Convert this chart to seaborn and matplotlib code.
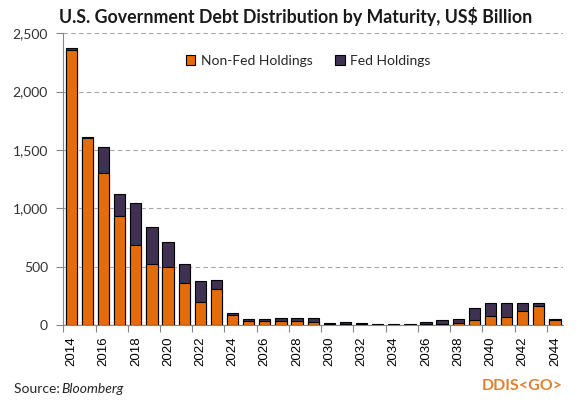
import numpy as np
import pandas as pd
import seaborn as sns
import matplotlib.pyplot as plt
from matplotlib.ticker import FuncFormatter, FixedLocator

years = list(range(2014, 2045))
non_fed = [2361, 1599, 1306, 930, 682, 519, 496, 357, 200, 305,
           88, 32, 32, 32, 37, 29, 8, 11, 8, 4,
           3, 3, 11, 8, 14, 43, 77, 71, 117, 165, 40]
fed = [15, 15, 222, 196, 367, 317, 214, 162, 174, 80,
       12, 17, 17, 28, 20, 28, 6, 12, 6, 2,
       3, 3, 12, 32, 34, 105, 108, 120, 74, 20, 11]

ORANGE = "#E46C0A"
PURPLE = "#3F3151"
GREY = "#868686"

df = pd.DataFrame({"Year": [str(y) for y in years],
                   "Non-Fed Holdings": non_fed,
                   "Fed Holdings": fed})
df["Total"] = df["Non-Fed Holdings"] + df["Fed Holdings"]

sns.set_style("white")
plt.rcParams["font.family"] = ["Lato", "DejaVu Sans"]

fig = plt.figure(figsize=(5.79, 4.03), dpi=100)
ax = fig.add_axes([0.1093, 0.1935, 0.8631, 0.7239])

# stacked look: total bar in dark purple, non-fed overlaid from zero
sns.barplot(data=df, x="Year", y="Total", color=PURPLE, width=0.7,
            edgecolor="black", linewidth=0.8, saturation=1, ax=ax,
            label="Fed Holdings", zorder=3)
sns.barplot(data=df, x="Year", y="Non-Fed Holdings", color=ORANGE, width=0.7,
            edgecolor="black", linewidth=0.8, saturation=1, ax=ax,
            label="Non-Fed Holdings", zorder=4)

ax.set_ylim(0, 2500)
ax.set_xlim(-0.5, len(years) - 0.5)
ax.set_yticks(np.arange(0, 2501, 500))
ax.yaxis.set_major_formatter(FuncFormatter(lambda v, p: f"{int(v):,}"))
ax.grid(axis="y", color="#A6A6A6", linestyle=(0, (4, 3)), linewidth=0.8, zorder=0)
ax.set_axisbelow(True)

idx = np.arange(0, len(years), 2)
ax.set_xticks(idx)
ax.set_xticklabels([str(years[i]) for i in idx], rotation=90,
                   fontfamily="Liberation Sans", fontsize=9.5)
ax.xaxis.set_minor_locator(FixedLocator(np.arange(-0.5, len(years), 2)))
ax.tick_params(axis="x", which="major", length=0, pad=8, colors="black")
ax.tick_params(axis="x", which="minor", length=5, color=GREY, width=0.8, bottom=True)
ax.tick_params(axis="y", length=5, color=GREY, width=0.8, left=True,
               labelsize=10, pad=6)
for lab in ax.get_yticklabels():
    lab.set_color("#333333")
ax.set_xlabel("")
ax.set_ylabel("")

for s in ["top", "right"]:
    ax.spines[s].set_visible(False)
for s in ["left", "bottom"]:
    ax.spines[s].set_color(GREY)
    ax.spines[s].set_linewidth(0.8)

handles, labels = ax.get_legend_handles_labels()
order = [labels.index("Non-Fed Holdings"), labels.index("Fed Holdings")]
ax.legend([handles[i] for i in order], [labels[i] for i in order],
          loc="upper center", bbox_to_anchor=(0.49, 0.97), ncol=2, frameon=False,
          fontsize=10, handlelength=0.7, handleheight=0.7, handletextpad=0.4,
          columnspacing=1.6)

fig.text(0.51, 0.96, "U.S. Government Debt Distribution by Maturity, US$ Billion",
         ha="center", va="center", fontsize=12.8, fontweight="bold", color="#1a1a1a")
fig.text(0.024, 0.035, "Source: ", ha="left", va="center", fontsize=10)
fig.text(0.106, 0.035, "Bloomberg", ha="left", va="center", fontsize=10, style="italic")
fig.text(0.972, 0.042, "DDIS<GO>", ha="right", va="center", fontsize=11.5,
         fontweight="bold", color="#E0822F")

fig.savefig("out.png", dpi=100)
